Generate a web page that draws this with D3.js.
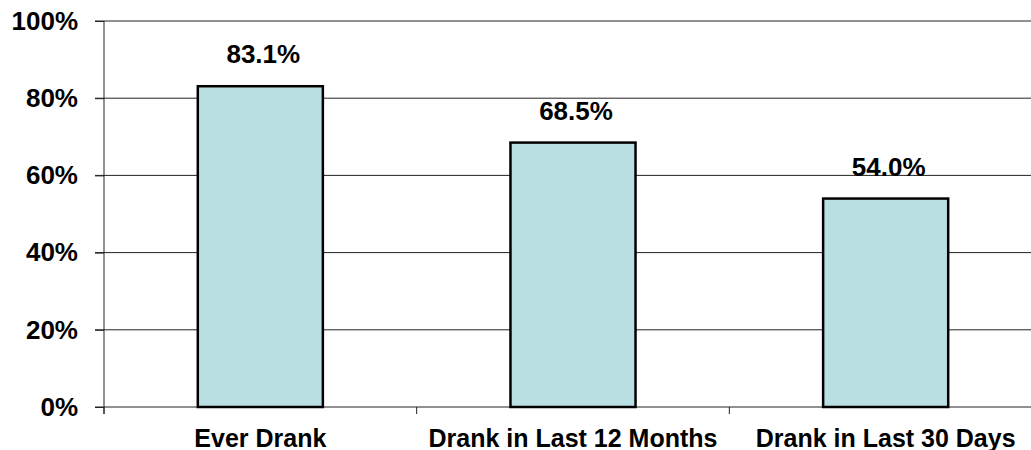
<!DOCTYPE html>
<html>
<head>
<meta charset="utf-8">
<script src="https://cdn.jsdelivr.net/npm/d3@7"></script>
<style>
  body { margin: 0; background: #fff; }
  svg { display: block; font-family: "Liberation Sans", Arial, sans-serif; font-weight: bold; }
</style>
</head>
<body>
<svg id="chart"></svg>
<script>
const categories = ["Ever Drank", "Drank in Last 12 Months", "Drank in Last 30 Days"];
const values = [0.831, 0.685, 0.540];
const yTicks = [0, 0.2, 0.4, 0.6, 0.8, 1.0];

const width = 1031, height = 450;
const margin = { top: 21, right: -11, bottom: 43, left: 104 };

const svg = d3.select("#chart")
  .attr("width", width)
  .attr("height", height);

const xScale = d3.scaleBand()
  .domain(categories)
  .range([margin.left, width - margin.right])
  .paddingInner(0.6)
  .paddingOuter(0.3);

const yScale = d3.scaleLinear()
  .domain([0, 1])
  .range([height - margin.bottom, margin.top]);

// gridlines
svg.append("g")
  .selectAll("line")
  .data(yTicks)
  .join("line")
  .attr("x1", margin.left - 9)
  .attr("x2", width - margin.right)
  .attr("y1", d => yScale(d))
  .attr("y2", d => yScale(d))
  .attr("stroke", "#222")
  .attr("stroke-width", 1);

// y axis
const yAxis = d3.axisLeft(yScale)
  .tickValues(yTicks)
  .tickSize(9)
  .tickPadding(17)
  .tickFormat(d3.format(".0%"));

const yAxisGroup = svg.append("g")
  .attr("transform", `translate(${margin.left},0)`)
  .call(yAxis);

yAxisGroup.select(".domain").remove();
yAxisGroup.selectAll(".tick line").attr("stroke", "#222");
yAxisGroup.selectAll("text")
  .attr("font-size", 26)
  .attr("font-weight", "bold")
  .attr("font-family", "'Liberation Sans', Arial, sans-serif")
  .attr("fill", "#000");

// vertical axis line
svg.append("line")
  .attr("x1", margin.left)
  .attr("x2", margin.left)
  .attr("y1", yScale(1))
  .attr("y2", yScale(0) + 7)
  .attr("stroke", "#222");

// category boundary ticks
svg.append("g")
  .selectAll("line")
  .data(categories)
  .join("line")
  .attr("x1", d => xScale(d) - xScale.step() * 0.3)
  .attr("x2", d => xScale(d) - xScale.step() * 0.3)
  .attr("y1", yScale(0))
  .attr("y2", yScale(0) + 7)
  .attr("stroke", "#222");

// bars
svg.append("g")
  .selectAll("rect")
  .data(categories)
  .join("rect")
  .attr("x", d => xScale(d))
  .attr("width", xScale.bandwidth())
  .attr("y", (d, i) => yScale(values[i]))
  .attr("height", (d, i) => yScale(0) - yScale(values[i]))
  .attr("fill", "#b9dfe2")
  .attr("stroke", "#000")
  .attr("stroke-width", 2.5);

// value labels
svg.append("g")
  .selectAll("text")
  .data(categories)
  .join("text")
  .attr("x", d => xScale(d) + xScale.bandwidth() / 2 + 3)
  .attr("y", (d, i) => yScale(values[i]) - 23)
  .attr("text-anchor", "middle")
  .attr("font-size", 26)
  .text((d, i) => d3.format(".1%")(values[i]));

// category labels
const xAxis = d3.axisBottom(xScale).tickSize(0).tickPadding(0);
const xAxisGroup = svg.append("g")
  .attr("transform", `translate(0,${yScale(0)})`)
  .call(xAxis);

xAxisGroup.select(".domain").remove();
xAxisGroup.selectAll("text")
  .attr("y", 39.5)
  .attr("dy", null)
  .attr("font-size", 25)
  .attr("font-weight", "bold")
  .attr("font-family", "'Liberation Sans', Arial, sans-serif")
  .attr("fill", "#000");
</script>
</body>
</html>
